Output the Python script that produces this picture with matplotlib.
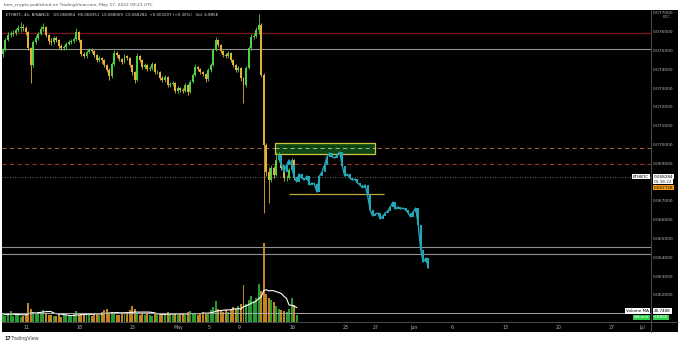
import numpy as np
import pandas as pd
import matplotlib
matplotlib.use("Agg")
import matplotlib.pyplot as plt
import matplotlib.dates as mdates
from matplotlib.transforms import blended_transform_factory
from matplotlib.patches import Rectangle

# ---------------- data ----------------
START = "2022-04-07 21:00"          # first 8h candle
OPEN0 = 0.07480
CLOSE = [0.07503, 0.07556, 0.07582, 0.07588, 0.07593, 0.07609, 0.07620, 0.07625, 0.07620, 0.07598,
         0.07513, 0.07423, 0.07545, 0.07566, 0.07588, 0.07614, 0.07625, 0.07582, 0.07551, 0.07545,
         0.07566, 0.07556, 0.07524, 0.07513, 0.07518, 0.07535, 0.07545, 0.07551, 0.07561, 0.07598,
         0.07556, 0.07481, 0.07471, 0.07492, 0.07503, 0.07497, 0.07476, 0.07449, 0.07460, 0.07449,
         0.07423, 0.07396, 0.07364, 0.07428, 0.07487, 0.07476, 0.07455, 0.07439, 0.07471, 0.07460,
         0.07423, 0.07386, 0.07343, 0.07471, 0.07449, 0.07412, 0.07423, 0.07401, 0.07407, 0.07428,
         0.07386, 0.07386, 0.07354, 0.07343, 0.07359, 0.07316, 0.07322, 0.07327, 0.07285, 0.07301,
         0.07290, 0.07285, 0.07316, 0.07279, 0.07332, 0.07370, 0.07412, 0.07401, 0.07386, 0.07375,
         0.07348, 0.07396, 0.07423, 0.07503, 0.07556, 0.07529, 0.07497, 0.07476, 0.07471, 0.07487,
         0.07449, 0.07423, 0.07396, 0.07407, 0.07354, 0.07316, 0.07407, 0.07513, 0.07572, 0.07577,
         0.07609, 0.07636, 0.07370, 0.06997, 0.06854, 0.06811, 0.06875, 0.06838, 0.06918, 0.06944,
         0.06875, 0.06822, 0.06822, 0.06864, 0.06918, 0.06822, 0.06828]
HIGH = [0.07515, 0.07566, 0.07598, 0.07602, 0.07610, 0.07622, 0.07636, 0.07652, 0.07640, 0.07630,
        0.07605, 0.07520, 0.07555, 0.07580, 0.07600, 0.07630, 0.07648, 0.07632, 0.07590, 0.07565,
        0.07578, 0.07575, 0.07562, 0.07532, 0.07528, 0.07545, 0.07556, 0.07562, 0.07572, 0.07622,
        0.07605, 0.07562, 0.07492, 0.07502, 0.07515, 0.07512, 0.07505, 0.07482, 0.07472, 0.07468,
        0.07455, 0.07430, 0.07405, 0.07440, 0.07500, 0.07495, 0.07482, 0.07462, 0.07482, 0.07478,
        0.07466, 0.07430, 0.07392, 0.07485, 0.07478, 0.07455, 0.07435, 0.07430, 0.07418, 0.07440,
        0.07434, 0.07398, 0.07392, 0.07362, 0.07370, 0.07365, 0.07334, 0.07340, 0.07333, 0.07312,
        0.07308, 0.07298, 0.07326, 0.07322, 0.07342, 0.07382, 0.07428, 0.07420, 0.07408, 0.07392,
        0.07382, 0.07405, 0.07435, 0.07515, 0.07572, 0.07562, 0.07535, 0.07505, 0.07485, 0.07498,
        0.07492, 0.07455, 0.07430, 0.07418, 0.07412, 0.07360, 0.07418, 0.07525, 0.07588, 0.07592,
        0.07625, 0.07694, 0.07645, 0.07380, 0.07010, 0.06880, 0.06892, 0.06885, 0.06962, 0.06960,
        0.06950, 0.06882, 0.06838, 0.06876, 0.06930, 0.06925, 0.06835]
LOW = [0.07468, 0.07495, 0.07548, 0.07570, 0.07575, 0.07585, 0.07600, 0.07600, 0.07605, 0.07585,
       0.07500, 0.07327, 0.07410, 0.07535, 0.07555, 0.07580, 0.07605, 0.07570, 0.07535, 0.07530,
       0.07535, 0.07545, 0.07510, 0.07500, 0.07502, 0.07510, 0.07528, 0.07536, 0.07540, 0.07550,
       0.07545, 0.07470, 0.07460, 0.07462, 0.07485, 0.07486, 0.07465, 0.07438, 0.07440, 0.07436,
       0.07412, 0.07385, 0.07345, 0.07355, 0.07420, 0.07465, 0.07445, 0.07428, 0.07432, 0.07450,
       0.07412, 0.07372, 0.07327, 0.07338, 0.07440, 0.07400, 0.07402, 0.07390, 0.07392, 0.07398,
       0.07375, 0.07374, 0.07342, 0.07330, 0.07335, 0.07305, 0.07305, 0.07312, 0.07272, 0.07276,
       0.07280, 0.07272, 0.07278, 0.07262, 0.07272, 0.07325, 0.07362, 0.07392, 0.07375, 0.07362,
       0.07335, 0.07340, 0.07388, 0.07418, 0.07495, 0.07518, 0.07486, 0.07465, 0.07460, 0.07462,
       0.07438, 0.07410, 0.07385, 0.07388, 0.07340, 0.07221, 0.07305, 0.07400, 0.07505, 0.07560,
       0.07565, 0.07590, 0.07360, 0.06635, 0.06830, 0.06689, 0.06800, 0.06820, 0.06830, 0.06905,
       0.06862, 0.06808, 0.06805, 0.06815, 0.06855, 0.06810, 0.06807]
VOLUME = [14, 10, 12, 18, 9, 11, 13, 8, 10, 12,
          31, 22, 16, 14, 17, 15, 19, 13, 12, 11,
          10, 9, 13, 8, 11, 12, 9, 10, 14, 18, 12, 15, 11,
          13, 12, 10, 15, 14, 12, 16, 19, 22, 14, 17, 13, 12, 11, 14, 13, 16, 20,
          26, 22,
          15, 12, 13, 11, 14, 12, 10, 13, 15, 12, 14, 11, 16, 13, 12, 15, 11, 13, 14, 12,
          16, 18, 14, 13, 12, 15, 17, 14, 13, 19, 24, 34,
          22, 18, 16, 20, 17, 19, 24, 21, 26, 30,
          60,
          30, 36, 42, 34, 40, 62, 50, 129, 45, 40,
          36,
          32, 26, 22, 20, 18, 17, 22, 40, 28, 11]

PATTERN_START_IDX = 109
PATTERN = [0.06944, 0.06891, 0.06854, 0.06891, 0.06918, 0.06891, 0.06827, 0.06801, 0.06843, 0.06822,
           0.06811, 0.06832, 0.06785, 0.06795, 0.06790, 0.06747, 0.06832, 0.06854, 0.06891, 0.06934,
           0.06955, 0.06934, 0.06928, 0.06944, 0.06960, 0.06886, 0.06832, 0.06843, 0.06822, 0.06811,
           0.06816, 0.06795, 0.06785, 0.06769, 0.06785, 0.06731, 0.06652, 0.06620, 0.06630, 0.06636,
           0.06604, 0.06620, 0.06636, 0.06646, 0.06668, 0.06694, 0.06657, 0.06668, 0.06657, 0.06662,
           0.06652, 0.06636, 0.06614, 0.06641, 0.06662, 0.06572, 0.06439, 0.06375, 0.06396, 0.06343]

RED_LINE = 0.07595
GRAY_LINE = 0.07510
DASH_UPPER = 0.06983
DASH_LOWER = 0.06895
CURRENT = 0.068284
TIMER = "00:38:22"
OTHER_PRICE = 0.067728
GRAY_LOW1 = 0.06455
GRAY_LOW2 = 0.06419
GRAY_BOTTOM = 0.06104
BOX_TIME = ["2022-05-13 15:30", "2022-05-26 20:30"]
BOX_PRICE = [0.06949, 0.07010]
OLIVE_TIME = ["2022-05-15 12:45", "2022-05-28 01:00"]
OLIVE_PRICE = 0.06737

TICK_DATES = ["2022-04-11", "2022-04-18", "2022-04-25", "2022-05-01", "2022-05-05", "2022-05-09",
              "2022-05-16", "2022-05-23", "2022-05-27", "2022-06-01", "2022-06-06", "2022-06-13",
              "2022-06-20", "2022-06-27", "2022-07-01"]
TICK_LABELS = ["11", "18", "25", "May", "5", "9", "16", "23", "27", "Jun", "6", "13", "20", "27", "Jul"]
PRICE_TICKS = [0.062, 0.063, 0.064, 0.065, 0.066, 0.067, 0.068, 0.069, 0.070, 0.071, 0.072,
               0.073, 0.074, 0.075, 0.076, 0.077]

# ---------------- figure ----------------
W, H = 680, 345
fig = plt.figure(figsize=(W / 100, H / 100), dpi=100, facecolor="white")


def fx(x):
    return x / W


def fy(y):
    return 1 - y / H


bg = fig.add_axes([fx(2), fy(332), fx(678) - fx(2), fy(10) - fy(332)])
bg.set_facecolor("black")
bg.set_xticks([]); bg.set_yticks([])
for s in bg.spines.values():
    s.set_visible(False)

rect = [fx(2), fy(322), fx(651) - fx(2), fy(10) - fy(322)]
axv = fig.add_axes(rect)
ax = fig.add_axes(rect, sharex=axv)
for a in (axv, ax):
    a.set_facecolor("none")
    for s in a.spines.values():
        s.set_visible(False)

t = mdates.date2num(pd.date_range(START, periods=len(CLOSE), freq="8h").to_pydatetime())
tp = mdates.date2num(pd.date_range(pd.Timestamp(START) + pd.Timedelta(hours=8 * PATTERN_START_IDX),
                                   periods=len(PATTERN), freq="8h").to_pydatetime())
close = np.array(CLOSE)
openp = np.concatenate([[OPEN0], close[:-1]])
up = close >= openp

UP_C, DN_C = "#4fcf45", "#e2b23a"
VUP_C, VDN_C = "#2a9a34", "#c08420"
colors = np.where(up, UP_C, DN_C)
bw = 0.26

# volume
vol = np.array(VOLUME, dtype=float)
axv.bar(t, vol, width=bw, color=np.where(up, VUP_C, VDN_C), linewidth=0)
ma = pd.Series(vol).rolling(10, min_periods=1).mean()
axv.plot(t, ma, color="white", lw=0.8)
axv.set_ylim(0, 312 / 0.612)
axv.set_yticks([])
axv.tick_params(axis="x", length=0, labelbottom=False)

# horizontal levels
ax.axhline(RED_LINE, color="#7e1818", lw=0.9)
ax.axhline(GRAY_LINE, color="#909090", lw=0.8)
ax.axhline(DASH_UPPER, color="#cf6e5c", lw=0.6, ls=(0, (5, 4)))
ax.axhline(DASH_LOWER, color="#c04040", lw=0.6, ls=(0, (5, 4)))
ax.axhline(CURRENT, color="#8a8a8a", lw=0.6, ls=(0, (1, 2)))
ax.axhline(GRAY_LOW1, color="#909090", lw=0.8)
ax.axhline(GRAY_LOW2, color="#909090", lw=0.8)
ax.axhline(GRAY_BOTTOM, color="#a8a8a8", lw=0.7)

bt = mdates.date2num(pd.to_datetime(BOX_TIME).to_pydatetime())
ax.add_patch(Rectangle((bt[0], BOX_PRICE[0]), bt[1] - bt[0], BOX_PRICE[1] - BOX_PRICE[0],
                       facecolor="#0d4612", edgecolor="#d2c53e", lw=0.9, zorder=3))
ax.hlines(DASH_UPPER, bt[0], bt[1], color="#b8d0a8", lw=0.6, ls=(0, (5, 4)), zorder=3.5)
ot = mdates.date2num(pd.to_datetime(OLIVE_TIME).to_pydatetime())
ax.hlines(OLIVE_PRICE, ot[0], ot[1], color="#b8a842", lw=0.9, zorder=3)

# candles
ax.vlines(t, LOW, HIGH, colors=colors, lw=0.6, zorder=4)
ax.bar(t, close - openp, bottom=openp, width=bw, color=colors, linewidth=0, zorder=4)

# projected pattern (cyan)
pc = np.array(PATTERN)
po = np.concatenate([[close[PATTERN_START_IDX - 1]], pc[:-1]])
ax.bar(tp, pc - po, bottom=po, width=bw, color="#22a6b6", linewidth=0, zorder=5)
ax.plot(tp, pc, color="#22a6b6", lw=1.0, zorder=5)

# axes limits / ticks
ax.set_xlim(mdates.date2num(pd.Timestamp("2022-04-07 18:00")),
            mdates.date2num(pd.Timestamp("2022-07-02 04:30")))
ax.set_ylim(0.060559, 0.077154)
ax.yaxis.tick_right()
ax.set_yticks(PRICE_TICKS)
ax.set_yticklabels([f"{p:.6f}" for p in PRICE_TICKS])
ax.tick_params(axis="y", length=0, pad=1.5, labelsize=3.2, labelcolor="#b8b8b8")
ax.set_xticks(mdates.date2num(pd.to_datetime(TICK_DATES).to_pydatetime()))
ax.set_xticklabels(TICK_LABELS)
ax.tick_params(axis="x", length=0, pad=2, labelsize=3.4, labelcolor="#b0b0b0")
plt.setp(axv.get_xticklabels(), visible=False)

# separators
fig.add_artist(plt.Line2D([fx(651), fx(651)], [fy(10), fy(332)], color="#555555", lw=0.6))
fig.add_artist(plt.Line2D([fx(2), fx(678)], [fy(322), fy(322)], color="#555555", lw=0.6))

# right-side labels
tr = blended_transform_factory(ax.transAxes, ax.transData)
box_w = dict(boxstyle="square,pad=0.15", fc="white", ec="none")
ax.text(1.004, CURRENT, f"{CURRENT:.6f}", transform=tr, ha="left", va="center", fontsize=3.0,
        color="black", bbox=box_w, clip_on=False, zorder=10)
fig.text(fx(654), fy(181.6), TIMER, ha="left", va="center", fontsize=3.0, color="#333333",
         bbox=box_w)
ax.text(0.997, CURRENT, "ETHBTC", transform=tr, ha="right", va="center", fontsize=3.0,
        color="black", bbox=box_w, clip_on=False, zorder=10)
fig.text(fx(654), fy(187.6), f"{OTHER_PRICE:.6f}", ha="left", va="center", fontsize=3.0,
         color="black", bbox=dict(boxstyle="square,pad=0.15", fc="#f59a1b", ec="none"))
fig.text(fx(667), fy(17), "BTC", ha="center", va="center", fontsize=3.0, color="#9a9a9a")

fig.text(fx(649), fy(311), "Volume MA", ha="right", va="center", fontsize=3.0, color="black",
         bbox=box_w)
fig.text(fx(654), fy(311), "20.740K", ha="left", va="center", fontsize=3.0, color="black",
         bbox=box_w)
box_g = dict(boxstyle="square,pad=0.15", fc="#2fd04a", ec="none")
fig.text(fx(649), fy(317.5), "Volume", ha="right", va="center", fontsize=3.0, color="white",
         bbox=box_g)
fig.text(fx(654), fy(317.5), "6.885K", ha="left", va="center", fontsize=3.0, color="white",
         bbox=box_g)

# header texts
fig.text(fx(4), fy(5), "bmr_crypto published on TradingView.com, May 17, 2022 09:21 UTC",
         ha="left", va="center", fontsize=3.2, color="#555555")
fig.text(fx(6), fy(15.5),
         "ETHBTC, 4h, BINANCE   O0.068084  H0.068351  L0.068069  C0.068284  +0.000207 (+0.30%)   Vol  6.885K",
         ha="left", va="center", fontsize=2.9, color="#d8d8d8")
fig.text(fx(4), fy(338.5), "17", ha="left", va="center", fontsize=3.4, color="#222222",
         fontweight="bold")
fig.text(fx(11), fy(338.5), "TradingView", ha="left", va="center", fontsize=3.4, color="#444444")

fig.savefig("out.png", dpi=100, facecolor="white")
